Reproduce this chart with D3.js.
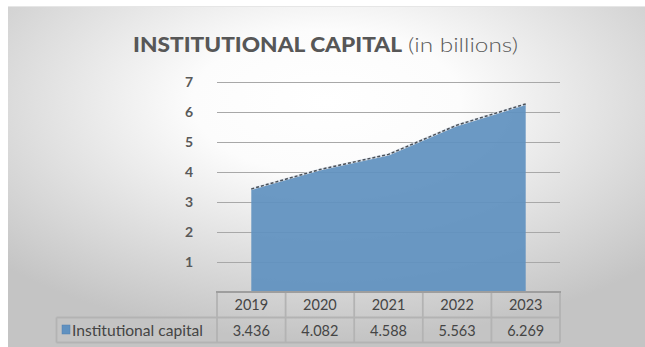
<!DOCTYPE html>
<html>
<head>
<meta charset="utf-8">
<script src="https://cdn.jsdelivr.net/npm/d3@7"></script>
<style>
  html, body { margin: 0; padding: 0; background: #ffffff; }
  svg { display: block; }
</style>
</head>
<body>
<svg id="chart" width="645" height="347"></svg>
<script>
// Institutional capital, in billions
const years = ["2019", "2020", "2021", "2022", "2023"];
const capital = [3.436, 4.082, 4.588, 5.563, 6.269];
const yTicks = [1, 2, 3, 4, 5, 6, 7];
const seriesName = "Institutional capital";

const svg = d3.select("#chart");
const W = 645, H = 347;

// panel background: soft radial gradient
const defs = svg.append("defs");
const grad = defs.append("radialGradient")
  .attr("id", "panelBg")
  .attr("cx", "50%").attr("cy", "28%").attr("r", "70%")
  .attr("fx", "50%").attr("fy", "28%");
grad.append("stop").attr("offset", "0%").attr("stop-color", "#ffffff");
grad.append("stop").attr("offset", "30%").attr("stop-color", "#fcfcfc");
grad.append("stop").attr("offset", "100%").attr("stop-color", "#c4c4c4");

svg.append("rect")
  .attr("x", 8).attr("y", 6)
  .attr("width", W - 8).attr("height", H - 6)
  .attr("fill", "url(#panelBg)");
svg.append("line")
  .attr("x1", 8).attr("x2", W).attr("y1", 6.5).attr("y2", 6.5)
  .attr("stroke", "#e6e6e6").attr("stroke-width", 1);

// title
const titleFont = "Lato, 'Open Sans', sans-serif";
svg.append("text")
  .attr("x", 133).attr("y", 52)
  .attr("font-family", titleFont)
  .attr("font-weight", 900)
  .attr("font-size", 20.5)
  .attr("fill", "#575757")
  .attr("textLength", 269)
  .attr("lengthAdjust", "spacingAndGlyphs")
  .text("INSTITUTIONAL CAPITAL");
svg.append("text")
  .attr("x", 408).attr("y", 52)
  .attr("font-family", titleFont)
  .attr("font-weight", 300)
  .attr("font-size", 20.5)
  .attr("fill", "#595959")
  .attr("textLength", 110)
  .attr("lengthAdjust", "spacingAndGlyphs")
  .text("(in billions)");

// scales
const plotLeft = 217, plotRight = 560, plotTop = 82, plotBottom = 292;
const x = d3.scaleBand().domain(years).range([plotLeft, plotRight]);
const y = d3.scaleLinear().domain([0, 7]).range([plotBottom, plotTop]);
const cx = d => x(d) + x.bandwidth() / 2;

// gridlines
svg.append("g")
  .selectAll("line")
  .data(yTicks)
  .join("line")
  .attr("x1", plotLeft).attr("x2", plotRight)
  .attr("y1", d => Math.round(y(d)) + 0.5)
  .attr("y2", d => Math.round(y(d)) + 0.5)
  .attr("stroke", "#a8a8a8")
  .attr("stroke-width", 1);

// y axis labels
const yAxis = d3.axisLeft(y).tickValues(yTicks).tickSize(0).tickPadding(0).tickFormat(d3.format("d"));
const yG = svg.append("g")
  .attr("transform", `translate(${193},0)`)
  .call(yAxis);
yG.select(".domain").remove();
yG.selectAll("text")
  .attr("font-family", "Lato, sans-serif")
  .attr("font-weight", 700)
  .attr("font-size", 14)
  .attr("fill", "#595959");

// area
const data = years.map((yr, i) => ({ year: yr, value: capital[i] }));
const area = d3.area()
  .x(d => cx(d.year))
  .y0(y(0))
  .y1(d => y(d.value));
svg.append("path")
  .datum(data)
  .attr("d", area)
  .attr("fill", "#6091c0")
  .attr("fill-opacity", 0.93);

// dashed top edge
const topLine = d3.line().x(d => cx(d.year)).y(d => y(d.value));
svg.append("path")
  .datum(data)
  .attr("d", topLine)
  .attr("fill", "none")
  .attr("stroke", "#dfe6ee")
  .attr("stroke-width", 2.2);
svg.append("path")
  .datum(data)
  .attr("d", topLine)
  .attr("fill", "none")
  .attr("stroke", "#4a5058")
  .attr("stroke-width", 1.5)
  .attr("stroke-dasharray", "3,2");

// data table
const rowTop = 292, rowMid = 317.5, rowBottom = 342.5;
const labelLeft = 56.5;
const table = svg.append("g");
const tableStroke = "#b3b3b3";

// horizontal rules
table.append("line")
  .attr("x1", labelLeft).attr("x2", plotRight)
  .attr("y1", rowMid).attr("y2", rowMid)
  .attr("stroke", tableStroke).attr("stroke-width", 1.8);
table.append("line")
  .attr("x1", labelLeft).attr("x2", plotRight)
  .attr("y1", rowBottom).attr("y2", rowBottom)
  .attr("stroke", tableStroke).attr("stroke-width", 1.8);
// vertical rules
const colEdges = years.map(d => x(d)).concat([x(years[years.length - 1]) + x.bandwidth()]);
table.selectAll("line.v")
  .data(colEdges)
  .join("line")
  .attr("class", "v")
  .attr("x1", d => d).attr("x2", d => d)
  .attr("y1", rowTop).attr("y2", rowBottom)
  .attr("stroke", tableStroke).attr("stroke-width", 1.8);
table.append("line")
  .attr("x1", labelLeft).attr("x2", labelLeft)
  .attr("y1", rowMid).attr("y2", rowBottom)
  .attr("stroke", tableStroke).attr("stroke-width", 1.8);
// axis line at the table top
table.append("line")
  .attr("x1", plotLeft - 1).attr("x2", plotRight + 1)
  .attr("y1", rowTop).attr("y2", rowTop)
  .attr("stroke", "#9e9e9e").attr("stroke-width", 2);

const cellFont = "Lato, sans-serif";
table.selectAll("text.year")
  .data(years)
  .join("text")
  .attr("class", "year")
  .attr("x", d => cx(d)).attr("y", 310)
  .attr("text-anchor", "middle")
  .attr("font-family", cellFont)
  .attr("font-size", 14.5)
  .attr("fill", "#454545")
  .text(d => d);
table.selectAll("text.val")
  .data(data)
  .join("text")
  .attr("class", "val")
  .attr("x", d => cx(d.year)).attr("y", 335.5)
  .attr("text-anchor", "middle")
  .attr("font-family", cellFont)
  .attr("font-size", 14.5)
  .attr("fill", "#454545")
  .text(d => d3.format(".3f")(d.value));

// legend key + series name
table.append("rect")
  .attr("x", 62).attr("y", 325)
  .attr("width", 8).attr("height", 9)
  .attr("fill", "#6091c0")
  .attr("stroke", "#4f7fae").attr("stroke-width", 0.5);
table.append("text")
  .attr("x", 72).attr("y", 335.5)
  .attr("font-family", cellFont)
  .attr("font-size", 15)
  .attr("fill", "#454545")
  .attr("textLength", 131)
  .attr("lengthAdjust", "spacingAndGlyphs")
  .text(seriesName);
</script>
</body>
</html>
